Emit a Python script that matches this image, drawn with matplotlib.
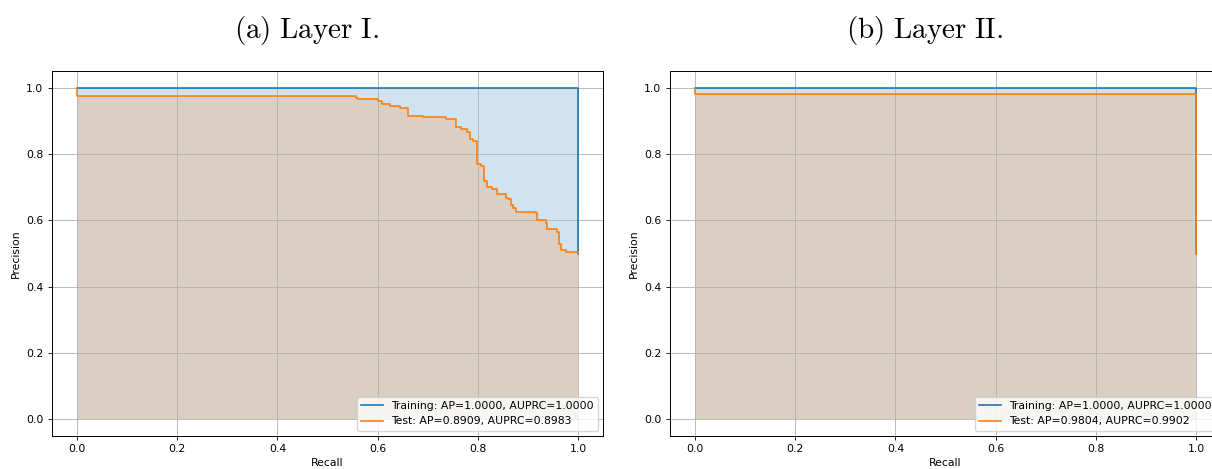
import matplotlib.pyplot as plt

# PR curves
train1_recall = [0.0, 1.0, 1.0]
train1_prec = [1.0, 1.0, 0.5]
test1_recall = [0.0, 0.0, 0.556, 0.560, 0.600, 0.608, 0.624, 0.644, 0.660, 0.690,
                0.736, 0.756, 0.766, 0.778, 0.784, 0.790, 0.798, 0.807, 0.812, 0.819,
                0.829, 0.839, 0.856, 0.860, 0.866, 0.870, 0.876, 0.916, 0.919, 0.936,
                0.939, 0.959, 0.963, 0.966, 0.976, 1.0]
test1_prec = [1.0, 0.976, 0.971, 0.966, 0.960, 0.953, 0.947, 0.941, 0.917, 0.912,
              0.906, 0.881, 0.877, 0.867, 0.845, 0.841, 0.771, 0.764, 0.720, 0.702,
              0.695, 0.679, 0.669, 0.665, 0.647, 0.637, 0.624, 0.621, 0.601, 0.593,
              0.573, 0.566, 0.528, 0.511, 0.505, 0.502]

train2_recall = [0.0, 1.0, 1.0]
train2_prec = [1.0, 1.0, 0.5]
test2_recall = [0.0, 0.0, 1.0, 1.0]
test2_prec = [1.0, 0.981, 0.981, 0.5]

labels1 = ["Training: AP=1.0000, AUPRC=1.0000", "Test: AP=0.8909, AUPRC=0.8983"]
labels2 = ["Training: AP=1.0000, AUPRC=1.0000", "Test: AP=0.9804, AUPRC=0.9902"]
captions = [r"$\mathrm{(a)\ Layer\ I.}$", r"$\mathrm{(b)\ Layer\ II.}$"]

plt.rcParams["font.size"] = 7.8
plt.rcParams["axes.linewidth"] = 0.7
plt.rcParams["grid.linewidth"] = 0.6
plt.rcParams["xtick.major.size"] = 2.6
plt.rcParams["ytick.major.size"] = 2.6
plt.rcParams["xtick.major.width"] = 0.6
plt.rcParams["ytick.major.width"] = 0.6

W, H = 1212, 469
fig = plt.figure(figsize=(W / 100, H / 100), dpi=100)
ax1 = fig.add_axes([52 / W, 1 - 435.5 / H, 551 / W, 364 / H])
ax2 = fig.add_axes([670 / W, 1 - 435.5 / H, 551 / W, 364 / H])

panels = [
    (ax1, train1_recall, train1_prec, test1_recall, test1_prec, labels1),
    (ax2, train2_recall, train2_prec, test2_recall, test2_prec, labels2),
]
for ax, tr_r, tr_p, te_r, te_p, labs in panels:
    ax.step(tr_r, tr_p, where="post", color="C0", lw=1.2, label=labs[0])
    ax.fill_between(tr_r, tr_p, step="post", color="C0", alpha=0.2, lw=0)
    ax.step(te_r, te_p, where="post", color="C1", lw=1.2, label=labs[1])
    ax.fill_between(te_r, te_p, step="post", color="C1", alpha=0.2, lw=0)
    ax.set_xlim(-0.05, 1.05)
    ax.set_ylim(-0.05, 1.05)
    ax.set_xlabel("Recall", labelpad=3)
    ax.set_ylabel("Precision", labelpad=4)
    ax.grid(True)
    ax.legend(loc="lower right", borderaxespad=0.45)

fig.text(307 / W, 1 - 30 / H, captions[0], math_fontfamily="cm", fontsize=21,
         ha="center", va="center")
fig.text(925 / W, 1 - 30 / H, captions[1], math_fontfamily="cm", fontsize=21,
         ha="center", va="center")

fig.savefig("out.png", dpi=100)
